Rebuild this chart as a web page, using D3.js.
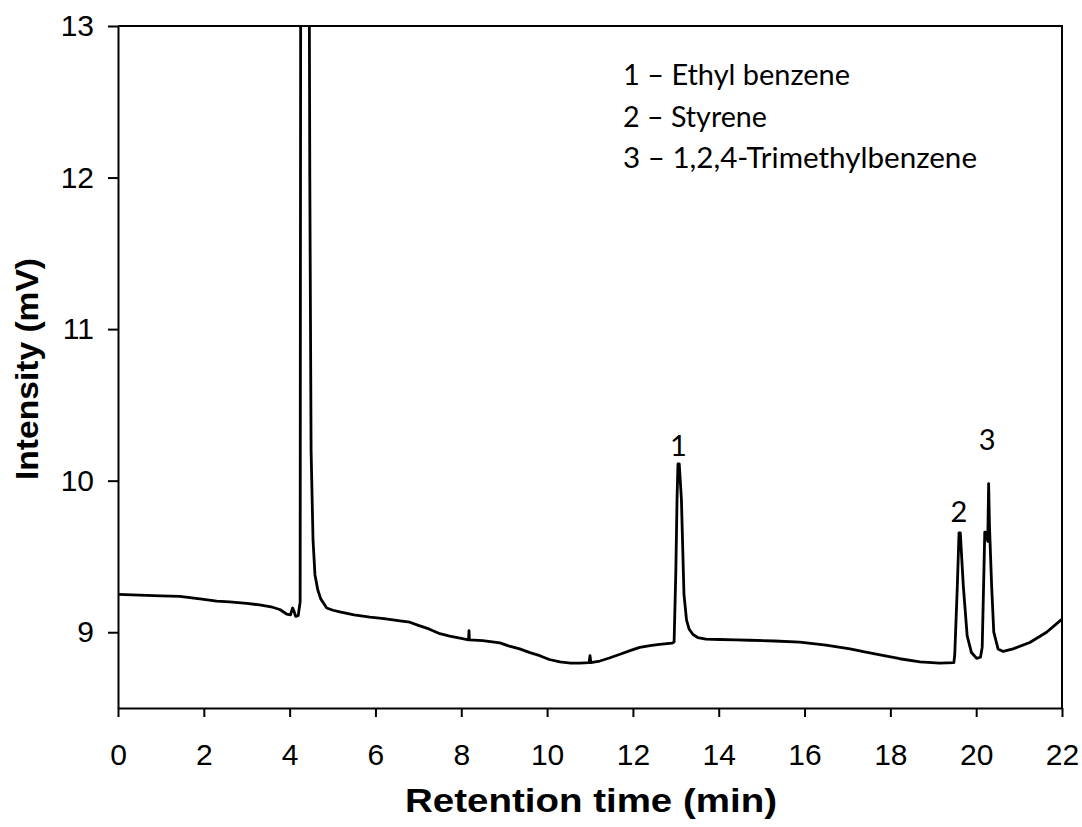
<!DOCTYPE html>
<html>
<head>
<meta charset="utf-8">
<script src="https://cdn.jsdelivr.net/npm/d3@7"></script>
<style>
  html, body { margin: 0; padding: 0; background: #fff; }
  svg { display: block; }
</style>
</head>
<body>
<svg id="chart" width="1082" height="827"></svg>
<script>
// Retention time (min)
const time = [
  0, 0.5, 1.0, 1.44, 1.91, 2.3, 2.6, 3.0, 3.3, 3.6, 3.77, 3.93, 4.02, 4.07, 4.10, 4.14, 4.20,
  4.245, 4.25, 4.26, 4.35, 4.45, 4.47, 4.50, 4.545, 4.59, 4.655, 4.725, 4.865, 5.01, 5.17,
  5.5, 5.87, 6.2, 6.57, 6.80, 7.0, 7.26, 7.50, 7.73, 8.0, 8.17, 8.18, 8.19, 8.5, 8.90, 9.1,
  9.36, 9.6, 9.83, 10.05, 10.30, 10.55, 10.76, 10.98, 11.0, 11.02, 11.23, 11.45, 11.70,
  11.95, 12.16, 12.4, 12.62, 12.91, 12.96, 13.00, 13.03, 13.05, 13.08, 13.13, 13.19, 13.25,
  13.31, 13.40, 13.51, 13.7, 14.03, 14.4, 14.72, 15.3, 15.89, 16.5, 17.06, 17.4, 17.76,
  18.22, 18.69, 19.15, 19.48, 19.50, 19.56, 19.60, 19.63, 19.70, 19.79, 19.89, 20.01,
  20.10, 20.14, 20.18, 20.20, 20.22, 20.27, 20.29, 20.31, 20.36, 20.41, 20.51, 20.63,
  20.86, 21.25, 21.64, 22.0
];
// Intensity (mV)
const intensity = [
  9.25, 9.245, 9.24, 9.237, 9.22, 9.205, 9.20, 9.19, 9.18, 9.165, 9.15, 9.12, 9.115, 9.16, 9.14, 9.105, 9.11,
  9.2, 11, 14, 17, 14, 12, 10.2, 9.61, 9.38, 9.28, 9.22, 9.16, 9.145, 9.134,
  9.115, 9.10, 9.09, 9.075, 9.066, 9.045, 9.02, 8.99, 8.975, 8.96, 8.95, 9.01, 8.95, 8.945, 8.93, 8.91,
  8.89, 8.865, 8.845, 8.82, 8.805, 8.796, 8.796, 8.80, 8.845, 8.80, 8.81, 8.83, 8.855,
  8.88, 8.90, 8.912, 8.92, 8.928, 8.935, 9.4, 9.9, 10.11, 10.11, 9.88, 9.25, 9.08,
  9.02, 8.985, 8.965, 8.955, 8.952, 8.95, 8.947, 8.942, 8.935, 8.915, 8.89, 8.87, 8.85,
  8.825, 8.805, 8.796, 8.80, 8.85, 9.3, 9.656, 9.656, 9.305, 8.976, 8.866, 8.827,
  8.835, 8.9, 9.4, 9.66, 9.66, 9.6, 9.98, 9.7, 9.305, 9.0, 8.89, 8.873,
  8.89, 8.932, 9.0, 9.086
];

const xTicks = [0, 2, 4, 6, 8, 10, 12, 14, 16, 18, 20, 22];
const yTicks = [9, 10, 11, 12, 13];
const xDomain = [0, 22];
const yDomain = [8.5, 13];

const legendLines = ["1 \u2013 Ethyl benzene", "2 \u2013 Styrene", "3 \u2013 1,2,4-Trimethylbenzene"];
const peakLabels = ["1", "2", "3"];
const peakTimes = [13.06, 19.62, 20.3];
const peakLabelValues = [10.16, 9.73, 10.2];

const xTitle = "Retention time (min)";
const yTitle = "Intensity (mV)";

const svg = d3.select("#chart");
const m = { left: 118, right: 1062, top: 26, bottom: 708 };

const x = d3.scaleLinear().domain(xDomain).range([m.left, m.right]);
const y = d3.scaleLinear().domain(yDomain).range([m.bottom, m.top]);

svg.append("defs").append("clipPath").attr("id", "clip")
  .append("rect").attr("x", m.left).attr("y", m.top)
  .attr("width", m.right - m.left).attr("height", m.bottom - m.top);

const pts = time.map((t, i) => [t, intensity[i]]);
const line = d3.line().x(d => x(d[0])).y(d => y(d[1]));

svg.append("path")
  .attr("clip-path", "url(#clip)")
  .attr("d", line(pts))
  .attr("fill", "none")
  .attr("stroke", "#000")
  .attr("stroke-width", 2.8)
  .attr("stroke-linejoin", "round");

// frame
svg.append("path")
  .attr("d", `M${m.left},${m.top}H${m.right}V${m.bottom}`)
  .attr("fill", "none").attr("stroke", "#000").attr("stroke-width", 2);

const axisFont = "'Liberation Sans', Arial, sans-serif";

const gx = svg.append("g").attr("transform", `translate(0,${m.bottom})`)
  .call(d3.axisBottom(x).tickValues(xTicks).tickSize(9).tickSizeOuter(0).tickPadding(27).tickFormat(d3.format("d")));
const gy = svg.append("g").attr("transform", `translate(${m.left},0)`)
  .call(d3.axisLeft(y).tickValues(yTicks).tickSize(10).tickSizeOuter(0).tickPadding(14).tickFormat(d3.format("d")));

[gx, gy].forEach(g => {
  g.select(".domain").attr("stroke", "#000").attr("stroke-width", 2);
  g.selectAll(".tick line").attr("stroke", "#000").attr("stroke-width", 2);
  g.selectAll(".tick text").attr("fill", "#000")
    .style("font-family", axisFont).style("font-size", "30px");
});

svg.append("text")
  .attr("x", 591).attr("y", 812)
  .attr("text-anchor", "middle")
  .attr("textLength", 372).attr("lengthAdjust", "spacingAndGlyphs")
  .style("font-family", axisFont).style("font-size", "33px").style("font-weight", "bold")
  .text(xTitle);

svg.append("text")
  .attr("transform", `translate(38,369) rotate(-90)`)
  .attr("text-anchor", "middle")
  .attr("textLength", 222).attr("lengthAdjust", "spacingAndGlyphs")
  .style("font-family", axisFont).style("font-size", "32px").style("font-weight", "bold")
  .text(yTitle);

const legFont = "Lato, 'Open Sans', sans-serif";
const legWidths = [227, 144, 354];
svg.append("g").selectAll("text").data(legendLines).join("text")
  .attr("x", 623)
  .attr("y", (d, i) => 85 + i * 41.7)
  .attr("textLength", (d, i) => legWidths[i]).attr("lengthAdjust", "spacingAndGlyphs")
  .style("font-family", legFont).style("font-size", "29px")
  .attr("fill", "#000")
  .text(d => d);

svg.append("g").selectAll("text").data(peakLabels).join("text")
  .attr("x", (d, i) => x(peakTimes[i]) + [0, -1, -2][i])
  .attr("y", (d, i) => y(peakLabelValues[i]))
  .attr("text-anchor", "middle")
  .style("font-family", legFont).style("font-size", "29px")
  .attr("fill", "#000")
  .text(d => d);
</script>
</body>
</html>
